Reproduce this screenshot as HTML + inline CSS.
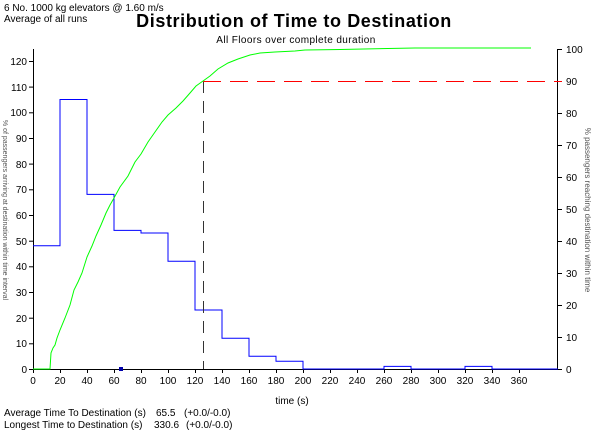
<!DOCTYPE html>
<html><head><meta charset="utf-8"><style>
body{margin:0;background:#fff;}
svg{display:block;font-family:"Liberation Sans",sans-serif;}
</style></head><body>
<svg width="602" height="441" viewBox="0 0 602 441">
<rect width="602" height="441" fill="#fff"/>
<text x="4" y="11" font-size="10">6 No. 1000 kg elevators @ 1.60 m/s</text>
<text x="4" y="22" font-size="10">Average of all runs</text>
<text x="294" y="27" font-size="18" font-weight="bold" text-anchor="middle" letter-spacing="0.6">Distribution of Time to Destination</text>
<text x="296" y="43" font-size="10" text-anchor="middle" letter-spacing="0.4">All Floors over complete duration</text>
<g stroke="#000" stroke-width="1" fill="none">
<line x1="33.5" y1="49" x2="33.5" y2="369.5"/>
<line x1="33" y1="369.5" x2="558" y2="369.5"/>
<line x1="557.5" y1="49" x2="557.5" y2="369.5"/>
</g>
<g stroke="#000">
<line x1="29" x2="33" y1="369.5" y2="369.5"/><line x1="29" x2="33" y1="343.8" y2="343.8"/><line x1="29" x2="33" y1="318.2" y2="318.2"/><line x1="29" x2="33" y1="292.5" y2="292.5"/><line x1="29" x2="33" y1="266.8" y2="266.8"/><line x1="29" x2="33" y1="241.2" y2="241.2"/><line x1="29" x2="33" y1="215.5" y2="215.5"/><line x1="29" x2="33" y1="189.8" y2="189.8"/><line x1="29" x2="33" y1="164.1" y2="164.1"/><line x1="29" x2="33" y1="138.5" y2="138.5"/><line x1="29" x2="33" y1="112.8" y2="112.8"/><line x1="29" x2="33" y1="87.1" y2="87.1"/><line x1="29" x2="33" y1="61.5" y2="61.5"/>
<line x1="558" x2="562" y1="369.5" y2="369.5"/><line x1="558" x2="562" y1="337.5" y2="337.5"/><line x1="558" x2="562" y1="305.5" y2="305.5"/><line x1="558" x2="562" y1="273.5" y2="273.5"/><line x1="558" x2="562" y1="241.5" y2="241.5"/><line x1="558" x2="562" y1="209.5" y2="209.5"/><line x1="558" x2="562" y1="177.5" y2="177.5"/><line x1="558" x2="562" y1="145.5" y2="145.5"/><line x1="558" x2="562" y1="113.5" y2="113.5"/><line x1="558" x2="562" y1="81.5" y2="81.5" stroke="#f00"/><line x1="558" x2="562" y1="49.5" y2="49.5"/>
<line x1="33.5" x2="33.5" y1="369" y2="373"/><line x1="60.5" x2="60.5" y1="369" y2="373"/><line x1="87.5" x2="87.5" y1="369" y2="373"/><line x1="114.5" x2="114.5" y1="369" y2="373"/><line x1="141.5" x2="141.5" y1="369" y2="373"/><line x1="168.5" x2="168.5" y1="369" y2="373"/><line x1="195.5" x2="195.5" y1="369" y2="373"/><line x1="222.5" x2="222.5" y1="369" y2="373"/><line x1="249.5" x2="249.5" y1="369" y2="373"/><line x1="276.5" x2="276.5" y1="369" y2="373"/><line x1="303.5" x2="303.5" y1="369" y2="373"/><line x1="330.5" x2="330.5" y1="369" y2="373"/><line x1="357.5" x2="357.5" y1="369" y2="373"/><line x1="384.5" x2="384.5" y1="369" y2="373"/><line x1="411.5" x2="411.5" y1="369" y2="373"/><line x1="438.5" x2="438.5" y1="369" y2="373"/><line x1="465.5" x2="465.5" y1="369" y2="373"/><line x1="492.5" x2="492.5" y1="369" y2="373"/><line x1="519.5" x2="519.5" y1="369" y2="373"/>
</g>
<g font-size="10" text-anchor="end">
<text x="27" y="373">0</text><text x="27" y="347">10</text><text x="27" y="322">20</text><text x="27" y="296">30</text><text x="27" y="270">40</text><text x="27" y="245">50</text><text x="27" y="219">60</text><text x="27" y="193">70</text><text x="27" y="168">80</text><text x="27" y="142">90</text><text x="27" y="116">100</text><text x="27" y="91">110</text><text x="27" y="65">120</text>
</g>
<g font-size="10">
<text x="566" y="373">0</text><text x="566" y="341">10</text><text x="566" y="309">20</text><text x="566" y="277">30</text><text x="566" y="245">40</text><text x="566" y="213">50</text><text x="566" y="181">60</text><text x="566" y="149">70</text><text x="566" y="117">80</text><text x="566" y="85">90</text><text x="566" y="53">100</text>
</g>
<g font-size="10" text-anchor="middle">
<text x="33" y="384">0</text><text x="60" y="384">20</text><text x="87" y="384">40</text><text x="114" y="384">60</text><text x="141" y="384">80</text><text x="168" y="384">100</text><text x="195" y="384">120</text><text x="222" y="384">140</text><text x="249" y="384">160</text><text x="276" y="384">180</text><text x="303" y="384">200</text><text x="330" y="384">220</text><text x="357" y="384">240</text><text x="384" y="384">260</text><text x="411" y="384">280</text><text x="438" y="384">300</text><text x="465" y="384">320</text><text x="492" y="384">340</text><text x="519" y="384">360</text>
</g>
<text x="292" y="404" font-size="10" text-anchor="middle">time (s)</text>
<g font-size="10">
<text x="4" y="416">Average Time To Destination (s)</text><text x="156" y="416">65.5</text><text x="184" y="416">(+0.0/-0.0)</text>
<text x="4" y="428">Longest Time to Destination (s)</text><text x="154" y="428">330.6</text><text x="186" y="428">(+0.0/-0.0)</text>
</g>
<text transform="translate(3,210) rotate(90)" font-size="7" text-anchor="middle" fill="#555">% of passengers arriving at destination within time interval</text>
<text transform="translate(585,210) rotate(90)" font-size="8" text-anchor="middle" fill="#555">% passengers reaching destination within time</text>
<polyline fill="none" stroke="#0000ff" stroke-width="1" points="33,245.8 60,245.8 60,99.5 87,99.5 87,194.4 114,194.4 114,230.4 141,230.4 141,233 168,233 168,261.2 195,261.2 195,310 222,310 222,338.2 249,338.2 249,356.2 276,356.2 276,361.3 303,361.3 303,369 384,369 384,366.4 411,366.4 411,369 465,369 465,366.4 492,366.4 492,369 558,369"/>
<line x1="203.5" y1="81" x2="203.5" y2="369" stroke="#333" stroke-dasharray="12,8"/>
<line x1="203" y1="81.5" x2="558" y2="81.5" stroke="#ff0000" stroke-dasharray="18,9"/>
<polyline fill="none" stroke="#00ff00" stroke-width="1" points="33,369 50,369 51,353 53,348 55,345 57,338 60,330 65,318 70,305 74,290 78,282 82,273 87,257 92,246 96,236 101,225 106,213 110,205 114,198 120,187 128,176 135,162 141,154 148,142 155,132 162,122 168,115 176,108 183,101 190,93 196,86 203,81 210,76 218,69 228,63 238,59 250,55 260,53 275,52 295,51 305,50 340,49.5 415,48 531,48"/>
<rect x="119" y="367" width="4" height="4" fill="#00a"/>
</svg>
</body></html>
